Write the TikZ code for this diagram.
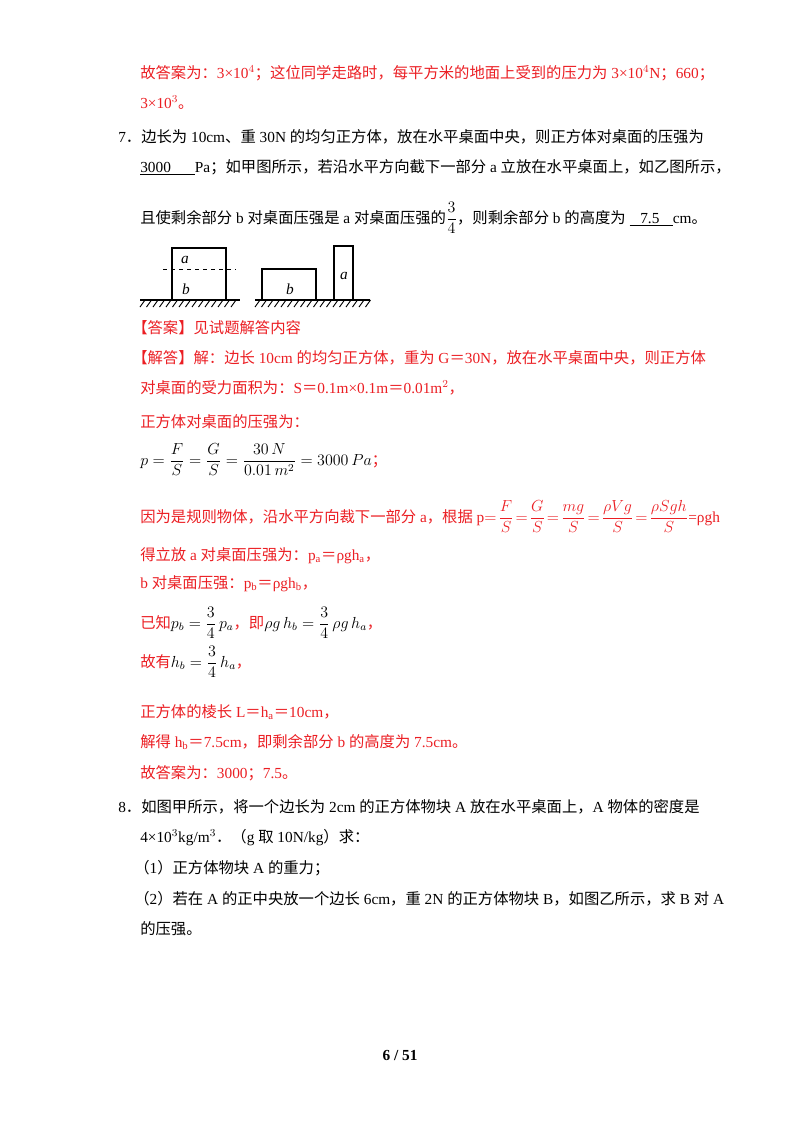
\documentclass[tikz,border=0pt]{standalone}
\usepackage{amsmath}
\usepackage{fontspec}
\setmainfont{Liberation Serif}
\newfontfamily\cjk{Noto Sans CJK SC}
% CJK characters switch to the CJK font
\XeTeXinterchartokenstate=1
\newXeTeXintercharclass\cjkclass
\newcount\cc
\def\setrange#1#2{\cc=#1\relax\loop\XeTeXcharclass\cc=\cjkclass\relax\ifnum\cc<#2\advance\cc by 1\repeat}
\setrange{"4E00}{"9FFF}
\setrange{"3000}{"303F}
\setrange{"FF00}{"FFEF}
\XeTeXinterchartoks 0 \cjkclass = {\begingroup\cjk}
\XeTeXinterchartoks 4095 \cjkclass = {\begingroup\cjk}
\XeTeXinterchartoks \cjkclass 0 = {\endgroup}
\XeTeXinterchartoks \cjkclass 4095 = {\endgroup}
\definecolor{ansred}{RGB}{235,30,35}

\begin{document}
\begin{tikzpicture}[x=0.75pt,y=-0.75pt]
\tikzset{
    every node/.style = {inner sep=0pt, font=\fontsize{11.5}{14}\selectfont},
    ln/.style = {anchor=base west},
    rd/.style = {ln, text=ansred},
    box/.style = {draw, line width=0.9pt},
    ground/.style = {line width=0.9pt},
    tick/.style = {line width=0.7pt}
}
\useasboundingbox (0,0) rectangle (800,1132);

% -------------------------------------------------------
\node[rd] (l1) at (140,78) {故答案为：3×10$^4$；这位同学走路时，每平方米的地面上受到的压力为 3×10$^4$N；660；};
\node[rd] (l2) at (140,108) {3×10$^3$。};
\node[ln] (q7) at (118,142) {7．边长为 10cm、重 30N 的均匀正方体，放在水平桌面中央，则正方体对桌面的压强为};
\node[ln] (q7b) at (140,172) {\underline{3000\hspace{18pt}}Pa；如甲图所示，若沿水平方向截下一部分 a 立放在水平桌面上，如乙图所示，};
\node[ln] (q7c) at (140,223) {且使剩余部分 b 对桌面压强是 a 对桌面压强的$\dfrac{3}{4}$，则剩余部分 b 的高度为 \underline{\hspace{8pt}7.5\hspace{10pt}}cm。};

% -------------------------------------------------------
\draw[ground] (140,300) coordinate (g1l) -- (240,300) coordinate (g1r);
\draw[ground] (255,300) coordinate (g2l) -- (370,300) coordinate (g2r);
\foreach \x in {140,146.5,...,236} \draw[tick] (\x,307) -- (\x+5,300);
\foreach \x in {255,261.5,...,366} \draw[tick] (\x,307) -- (\x+5,300);
\draw[box] (172,300) rectangle (226,248);
\draw[dashed, line width=0.7pt] (163,269) coordinate (dl) -- (236,269) coordinate (dr);
\node (fa) at (185,260) {\itshape a};
\node (fb) at (186,289) {\itshape b};
\draw[box] (262,300) rectangle (316,269);
\node (fb2) at (290,289) {\itshape b};
\draw[box] (334,300) rectangle (353,246);
\node (fa2) at (344,276) {\itshape a};

% -------------------------------------------------------
\node[rd] (ans) at (132,333) {【答案】见试题解答内容};
\node[rd] (sol) at (132,363) {【解答】解：边长 10cm 的均匀正方体，重为 G＝30N，放在水平桌面中央，则正方体};
\node[rd] (s2) at (140,393) {对桌面的受力面积为：S＝0.1m×0.1m＝0.01m$^2$，};
\node[rd] (s3) at (140,427) {正方体对桌面的压强为：};
\node[ln] (f1) at (140,465) {$p=\dfrac{F}{S}=\dfrac{G}{S}=\dfrac{30\,N}{0.01\,m^2}=3000\,Pa$\textcolor{ansred}{；}};
\node[rd] (s4) at (140,522) {因为是规则物体，沿水平方向裁下一部分 a，根据 p$=\!\dfrac{F}{S}\!=\!\dfrac{G}{S}\!=\!\dfrac{mg}{S}\!=\!\dfrac{\rho Vg}{S}\!=\!\dfrac{\rho Sgh}{S}$=ρgh};
\node[rd] (s5) at (140,560) {得立放 a 对桌面压强为：p$_\text{a}$＝ρgh$_\text{a}$，};
\node[rd] (s6) at (140,588) {b 对桌面压强：p$_\text{b}$＝ρgh$_\text{b}$，};
\node[rd] (s7) at (140,628) {已知\textcolor{black}{$p_b=\dfrac{3}{4}\,p_a$}，即\textcolor{black}{$\rho g\,h_b=\dfrac{3}{4}\,\rho g\,h_a$}，};
\node[rd] (s8) at (140,667) {故有\textcolor{black}{$h_b=\dfrac{3}{4}\,h_a$}，};
\node[rd] (s9) at (140,717) {正方体的棱长 L＝h$_\text{a}$＝10cm，};
\node[rd] (s10) at (140,747) {解得 h$_\text{b}$＝7.5cm，即剩余部分 b 的高度为 7.5cm。};
\node[rd] (s11) at (140,778) {故答案为：3000；7.5。};

% -------------------------------------------------------
\node[ln] (q8) at (118,812) {8．如图甲所示，将一个边长为 2cm 的正方体物块 A 放在水平桌面上，A 物体的密度是};
\node[ln] (q8b) at (140,842) {4×10$^3$kg/m$^3$．（g 取 10N/kg）求：};
\node[ln] (q8c) at (134,873) {（1）正方体物块 A 的重力；};
\node[ln] (q8d) at (134,904) {（2）若在 A 的正中央放一个边长 6cm，重 2N 的正方体物块 B，如图乙所示，求 B 对 A};
\node[ln] (q8e) at (140,934) {的压强。};

\node (page) at (400,1055) {\bfseries 6 / 51};
\end{tikzpicture}
\end{document}
